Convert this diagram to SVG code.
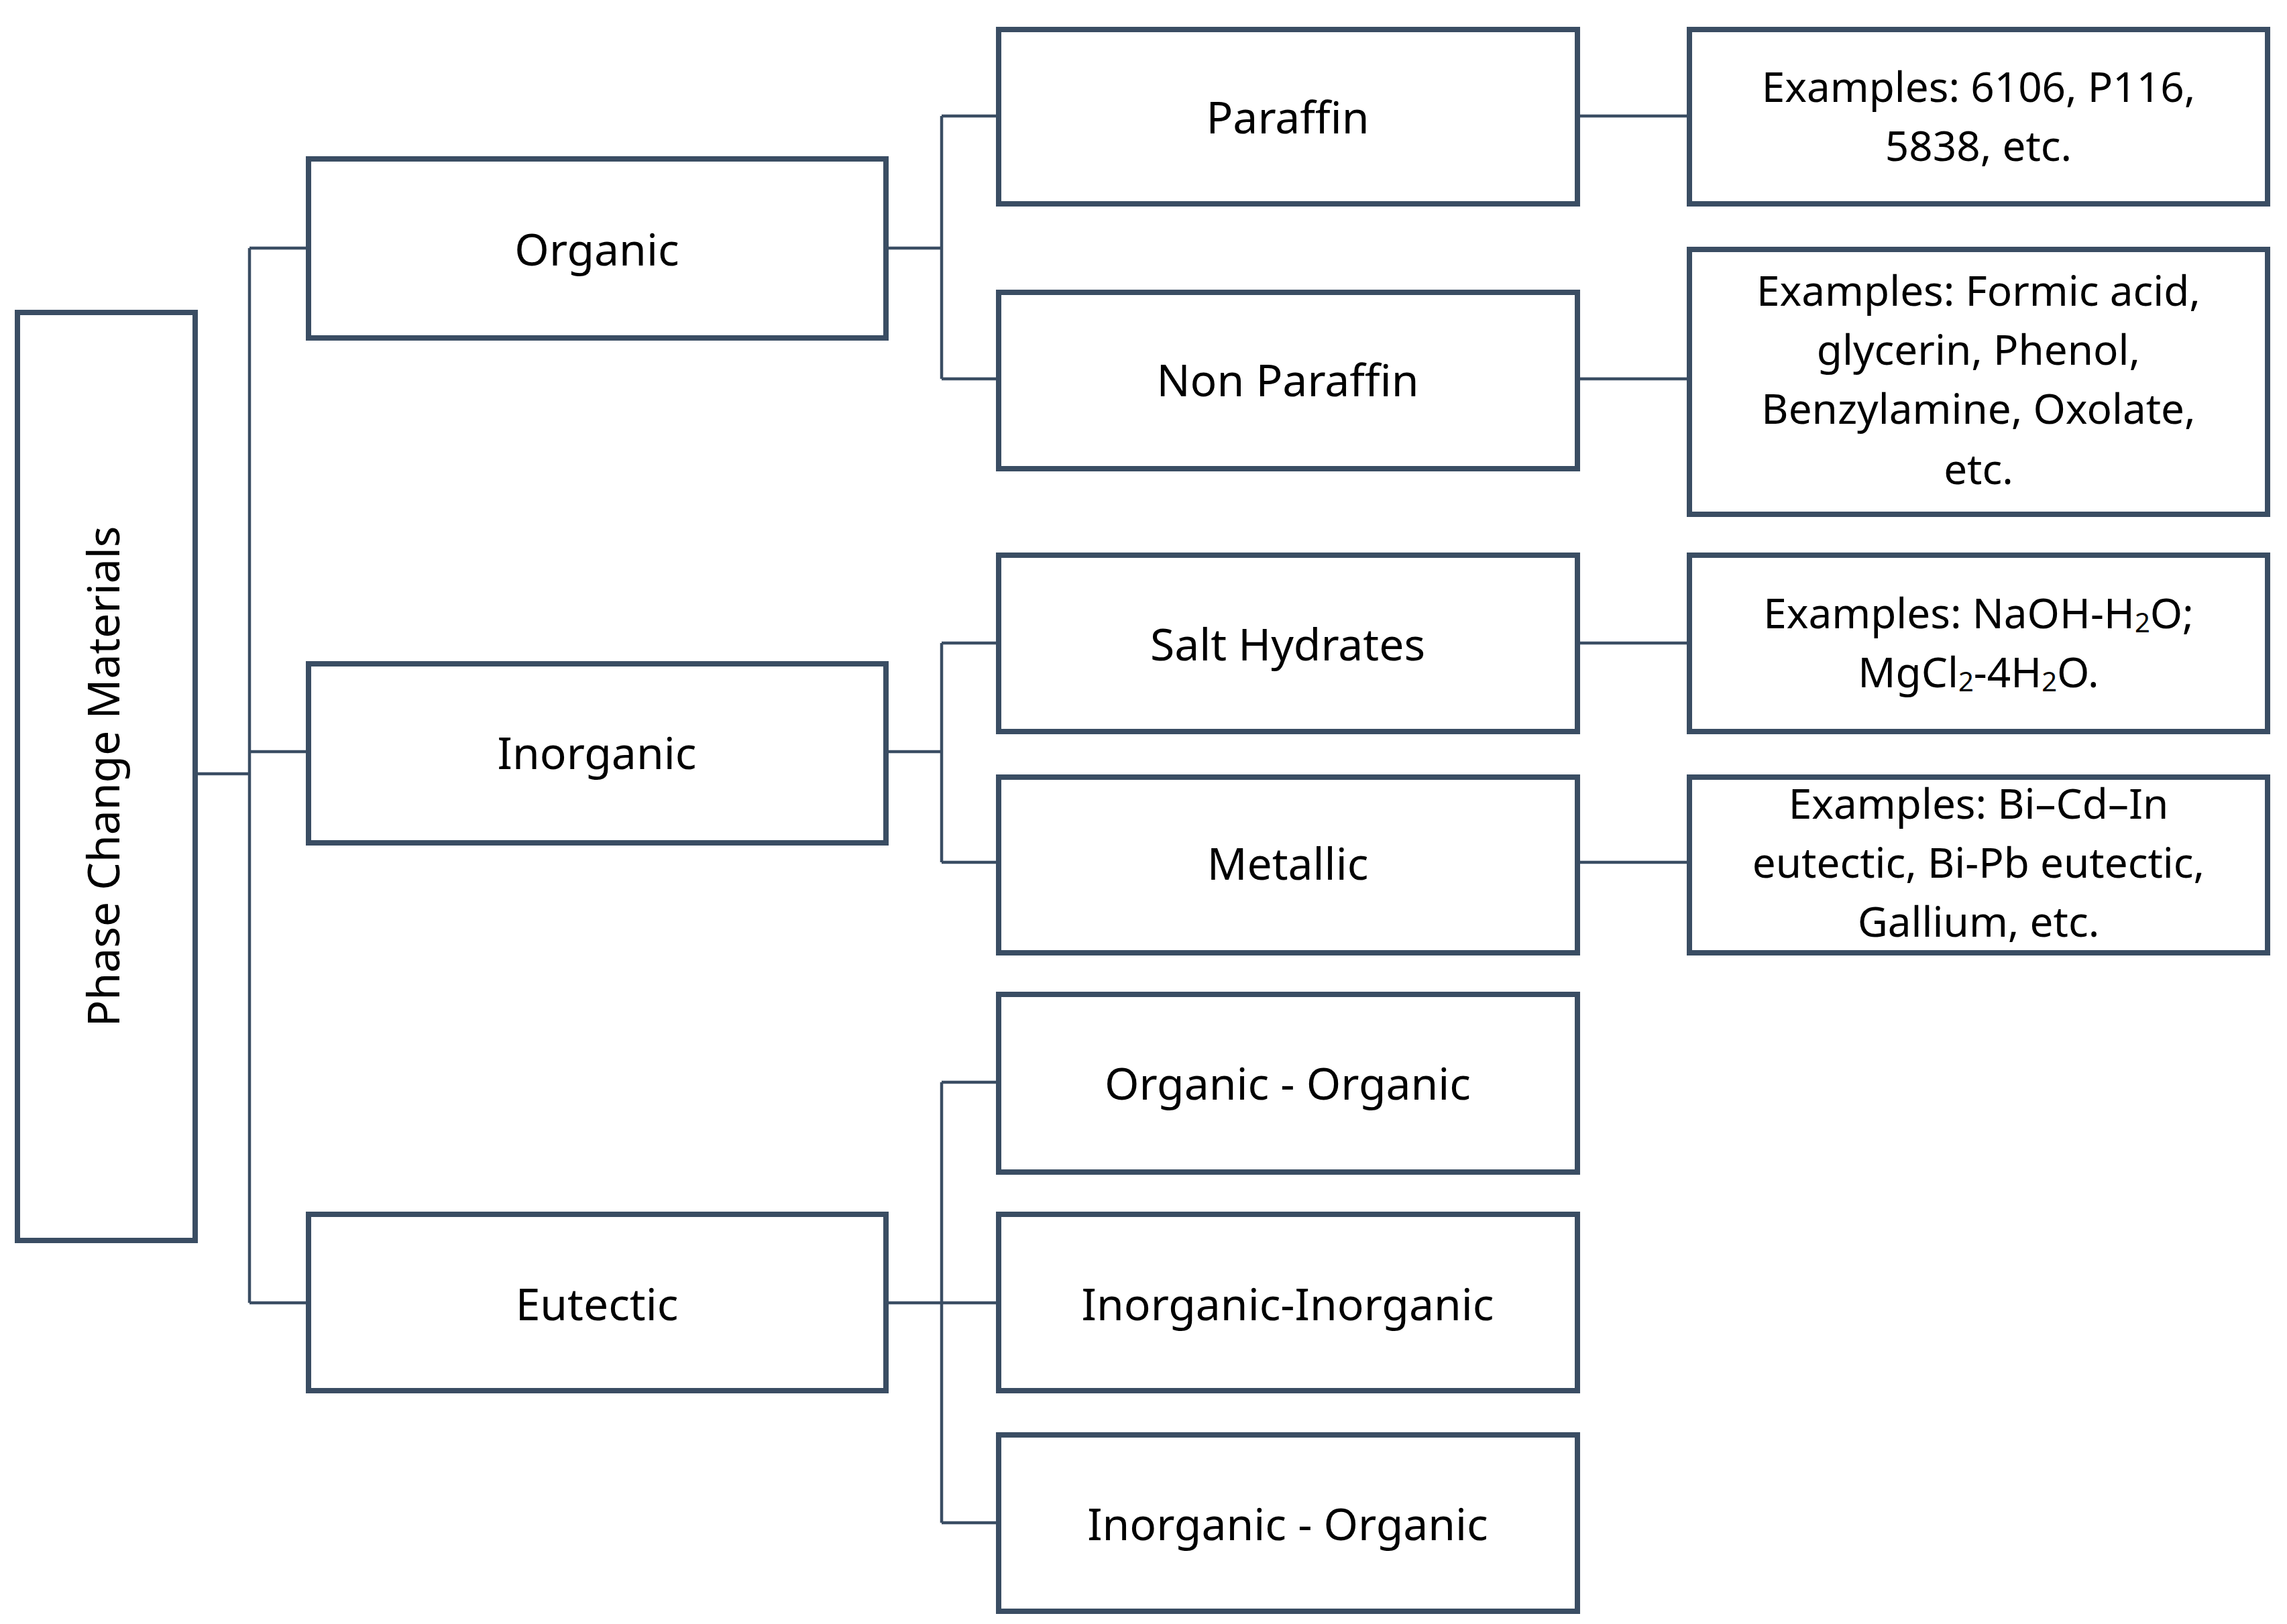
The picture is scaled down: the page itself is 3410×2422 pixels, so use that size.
<svg xmlns="http://www.w3.org/2000/svg" width="3410" height="2422" viewBox="0 0 3410 2422">
<style>
.b{fill:#fff;stroke:#3a4d63;stroke-width:8}
.c{fill:none;stroke:#3a4d63;stroke-width:4.5}
text{font-family:"Noto Sans","Open Sans",sans-serif;fill:#000;text-anchor:middle;dominant-baseline:central}
.l{font-size:66px}
.e{font-size:62px}
.s{font-size:40px}
</style>
<rect width="3410" height="2422" fill="#fff"/>
<g id="connectors">
<path class="c" d="M291 1154H372M372 370V1943M372 370H460M372 1121H460M372 1943H460"/>
<path class="c" d="M1321 370H1404M1404 173V565M1404 173H1489M1404 565H1489"/>
<path class="c" d="M1321 1121H1404M1404 959V1286M1404 959H1489M1404 1286H1489"/>
<path class="c" d="M1321 1943H1489M1404 1614V2271M1404 1614H1489M1404 2271H1489"/>
<path class="c" d="M2352 173H2519M2352 565H2519M2352 959H2519M2352 1286H2519"/>
</g>
<g id="root"><rect class="b" x="26" y="466" width="265" height="1384"/><text class="l" transform="translate(152 1158) rotate(-90)">Phase Change Materials</text></g>
<g id="organic"><rect class="b" x="460" y="237" width="861" height="267"/><text class="l" x="890" y="370">Organic</text></g>
<g id="inorganic"><rect class="b" x="460" y="990" width="861" height="267"/><text class="l" x="890" y="1121">Inorganic</text></g>
<g id="eutectic"><rect class="b" x="460" y="1811" width="861" height="263"/><text class="l" x="890" y="1943">Eutectic</text></g>
<g id="paraffin"><rect class="b" x="1489" y="44" width="863" height="260"/><text class="l" x="1920" y="173">Paraffin</text></g>
<g id="nonparaffin"><rect class="b" x="1489" y="436" width="863" height="263"/><text class="l" x="1920" y="565">Non Paraffin</text></g>
<g id="salthydrates"><rect class="b" x="1489" y="828" width="863" height="263"/><text class="l" x="1920" y="959">Salt Hydrates</text></g>
<g id="metallic"><rect class="b" x="1489" y="1159" width="863" height="262"/><text class="l" x="1920" y="1286">Metallic</text></g>
<g id="orgorg"><rect class="b" x="1489" y="1483" width="863" height="265"/><text class="l" x="1920" y="1614">Organic - Organic</text></g>
<g id="inorginorg"><rect class="b" x="1489" y="1811" width="863" height="263"/><text class="l" x="1920" y="1943">Inorganic-Inorganic</text></g>
<g id="inorgorg"><rect class="b" x="1489" y="2140" width="863" height="263"/><text class="l" x="1920" y="2271">Inorganic - Organic</text></g>
<g id="ex1"><rect class="b" x="2519" y="44" width="862" height="260"/><text class="e" x="2950" y="128">Examples: 6106, P116,</text><text class="e" x="2950" y="216">5838, etc.</text></g>
<g id="ex2"><rect class="b" x="2519" y="372" width="862" height="395"/><text class="e" x="2950" y="432">Examples: Formic acid,</text><text class="e" x="2950" y="520">glycerin, Phenol,</text><text class="e" x="2950" y="608">Benzylamine, Oxolate,</text><text class="e" x="2950" y="698">etc.</text></g>
<g id="ex3"><rect class="b" x="2519" y="828" width="862" height="263"/><text class="e" x="2950" y="913">Examples: NaOH-H<tspan class="s" dy="14">2</tspan><tspan dy="-14">O;</tspan></text><text class="e" x="2950" y="1001">MgCl<tspan class="s" dy="14">2</tspan><tspan dy="-14">-4H</tspan><tspan class="s" dy="14">2</tspan><tspan dy="-14">O.</tspan></text></g>
<g id="ex4"><rect class="b" x="2519" y="1159" width="862" height="262"/><text class="e" x="2950" y="1197">Examples: Bi–Cd–In</text><text class="e" x="2950" y="1285">eutectic, Bi-Pb eutectic,</text><text class="e" x="2950" y="1373">Gallium, etc.</text></g>
</svg>
